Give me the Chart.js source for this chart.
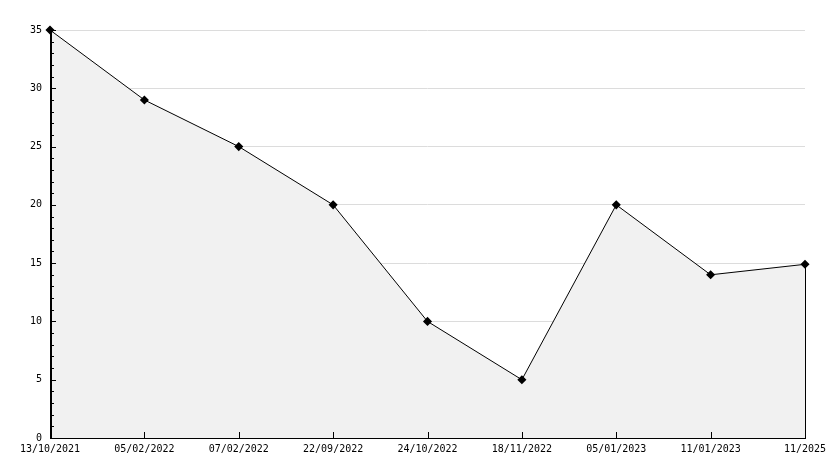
<!DOCTYPE html>
<html>
<head>
<meta charset="utf-8">
<script src="https://cdn.jsdelivr.net/npm/chart.js@4/dist/chart.umd.min.js"></script>
<style>
  html, body { margin: 0; padding: 0; background: #fff; }
  #wrap { width: 834px; height: 468px; }
</style>
</head>
<body>
<div id="wrap"><canvas id="c" width="834" height="468"></canvas></div>
<script>
// values
const dates = ["13/10/2021", "05/02/2022", "07/02/2022", "22/09/2022", "24/10/2022", "18/11/2022", "05/01/2023", "11/01/2023", "11/2025"];
const values = [35, 29, 25, 20, 10, 5, 20, 14, 14.9];
const yMax = 35;
const yStep = 5;
const yMinorStep = 1;

const FONT = "'DejaVu Sans Mono', monospace";

// ticks drawn inward from the axes, minor ones on y, plus the right edge of the fill
const axisPlugin = {
  id: "axisTicks",
  afterDatasetsDraw(chart) {
    const { ctx, chartArea, scales } = chart;
    const y = scales.y, x = scales.x;
    const left = Math.round(chartArea.left), bottom = Math.round(chartArea.bottom);
    ctx.save();
    ctx.strokeStyle = "#000";
    ctx.lineWidth = 1;

    // right edge of the filled area
    const meta = chart.getDatasetMeta(0);
    const last = meta.data[meta.data.length - 1];
    ctx.beginPath();
    ctx.moveTo(Math.round(last.x) + 0.5, last.y);
    ctx.lineTo(Math.round(last.x) + 0.5, bottom);
    ctx.stroke();

    // bottom axis
    ctx.beginPath();
    ctx.moveTo(left, bottom + 0.5);
    ctx.lineTo(chartArea.right + 1, bottom + 0.5);
    ctx.stroke();

    // left axis
    ctx.lineWidth = 2;
    ctx.beginPath();
    ctx.moveTo(left + 1, chartArea.top);
    ctx.lineTo(left + 1, bottom + 1);
    ctx.stroke();

    ctx.lineWidth = 1;
    // y ticks
    for (let v = 0; v <= yMax; v += yMinorStep) {
      const py = Math.round(y.getPixelForValue(v)) + 0.5;
      const len = v % yStep === 0 ? 6 : 4;
      ctx.beginPath();
      ctx.moveTo(left, py);
      ctx.lineTo(left + len, py);
      ctx.stroke();
    }
    // x ticks
    for (let i = 1; i < dates.length - 1; i++) {
      const px = Math.round(x.getPixelForValue(i)) + 0.5;
      ctx.beginPath();
      ctx.moveTo(px, bottom);
      ctx.lineTo(px, bottom - 6);
      ctx.stroke();
    }
    ctx.restore();
  }
};

new Chart(document.getElementById("c"), {
  type: "line",
  data: {
    labels: dates,
    datasets: [{
      data: values,
      borderColor: "#000",
      borderWidth: 1,
      backgroundColor: "#f1f1f1",
      fill: "origin",
      tension: 0,
      pointStyle: "rectRot",
      pointRadius: 3.5,
      pointBorderWidth: 1.5,
      pointBorderColor: "#000",
      pointBackgroundColor: "#000",
      clip: false
    }]
  },
  options: {
    responsive: false,
    animation: false,
    devicePixelRatio: 1,
    layout: { padding: { top: 30, right: 29, left: 0, bottom: 0 } },
    plugins: { legend: { display: false }, tooltip: { enabled: false } },
    scales: {
      x: {
        type: "category",
        offset: false,
        grid: { display: false, drawTicks: false },
        border: { display: false },
        ticks: {
          autoSkip: false,
          maxRotation: 0,
          padding: 5,
          color: "#000",
          font: { family: FONT, size: 10 }
        },
        afterFit(scale) { scale.height = 30; }
      },
      y: {
        min: 0,
        max: yMax,
        grid: { color: "#dcdcdc", lineWidth: 1, drawTicks: false },
        border: { display: false },
        ticks: {
          stepSize: yStep,
          padding: 8,
          color: "#000",
          font: { family: FONT, size: 10 }
        },
        afterFit(scale) { scale.width = 50; }
      }
    }
  },
  plugins: [axisPlugin]
});
</script>
</body>
</html>
